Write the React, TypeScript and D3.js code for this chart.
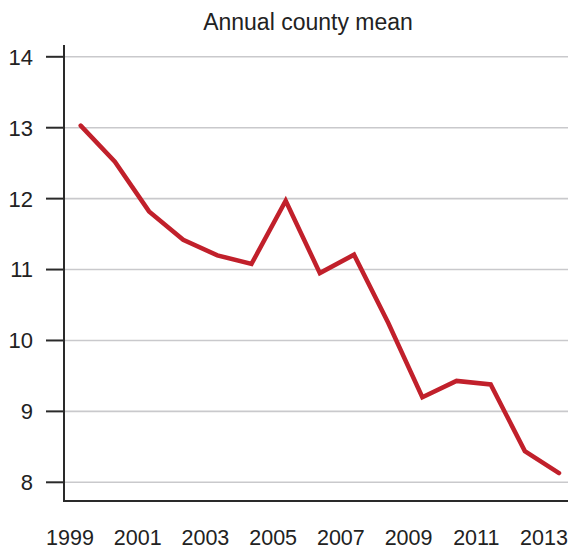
import React from "react";
import * as d3 from "d3";

const years = [1999, 2000, 2001, 2002, 2003, 2004, 2005, 2006, 2007, 2008, 2009, 2010, 2011, 2012, 2013];
const values = [13.03, 12.52, 11.82, 11.42, 11.2, 11.08, 11.97, 10.95, 11.21, 10.25, 9.2, 9.43, 9.38, 8.44, 8.13];
const yTicks = [8, 9, 10, 11, 12, 13, 14];
const xTickLabels = [1999, 2001, 2003, 2005, 2007, 2009, 2011, 2013];
const title = "Annual county mean";

const W = 568;
const H = 550;
const axisX = 64;
const axisY = 501;
const font = "'Liberation Sans', Arial, Helvetica, sans-serif";

export default function App() {
  const x = d3.scaleLinear().domain([1999, 2013]).range([80.7, 559]);
  const xLabel = d3.scaleLinear().domain([1999, 2013]).range([70, 544]);
  const y = d3.scaleLinear().domain([8, 14]).range([482.3, 56.8]);
  const line = d3
    .line<number>()
    .x((_, i) => x(years[i]))
    .y((d) => y(d))
    .curve(d3.curveLinear);

  return (
    <svg
      width={W}
      height={H}
      style={{ position: "absolute", left: 0, top: 0, background: "#fff" }}
      fontFamily={font}
    >
      <rect x={0} y={0} width={W} height={H} fill="#fff" />
      <text x={308} y={29.5} textAnchor="middle" fontSize={23} fill="#222">
        {title}
      </text>
      {yTicks.map((t) => (
        <g key={t}>
          <line x1={axisX} x2={W} y1={y(t)} y2={y(t)} stroke="#c9c9cc" strokeWidth={1.6} />
          <line x1={46} x2={axisX} y1={y(t)} y2={y(t)} stroke="#2a2a2a" strokeWidth={2} />
          <text x={33} y={y(t)} dy="0.36em" textAnchor="end" fontSize={22} fill="#222">
            {t}
          </text>
        </g>
      ))}
      <line x1={axisX} x2={axisX} y1={45} y2={axisY + 1} stroke="#2a2a2a" strokeWidth={2} />
      <line x1={axisX - 1} x2={W} y1={axisY} y2={axisY} stroke="#2a2a2a" strokeWidth={2} />
      {xTickLabels.map((yr) => (
        <text key={yr} x={xLabel(yr)} y={545} textAnchor="middle" fontSize={21.5} fill="#222">
          {yr}
        </text>
      ))}
      <path
        d={line(values) || ""}
        fill="none"
        stroke="#c1202b"
        strokeWidth={4.5}
        strokeLinejoin="miter"
        strokeLinecap="round"
      />
    </svg>
  );
}
